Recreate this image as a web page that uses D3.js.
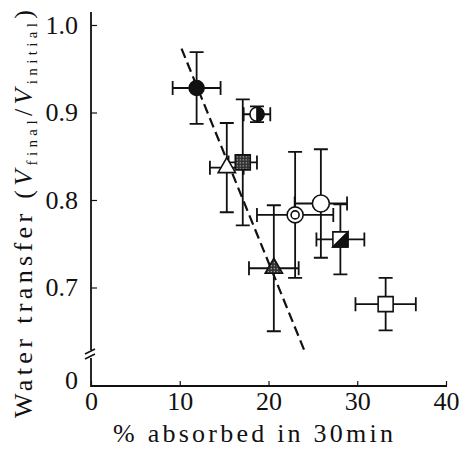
<!DOCTYPE html>
<html>
<head>
<meta charset="utf-8">
<script src="https://cdn.jsdelivr.net/npm/d3@7"></script>
<style>
  body { margin: 0; background: #fff; }
</style>
</head>
<body>
<div class="visHolder"></div>
<script>
const w = 463, h = 450;
const font = "'Liberation Serif', 'DejaVu Serif', serif";

// one entry per group
const markers     = ['filledCircle', 'halfCircle', 'filledSquare', 'openTriangle', 'doubleCircle', 'openCircle', 'halfSquare', 'dotTriangle', 'openSquare'];
const absorbed    = [11.9, 18.7, 17.1, 15.3, 23.0, 25.9, 28.1, 20.6, 33.2];
const absorbedErr = [2.7, 1.5, 1.6, 1.9, 4.3, 2.95, 2.7, 2.8, 3.4];
const transfer    = [0.928, 0.898, 0.843, 0.837, 0.783, 0.796, 0.755, 0.722, 0.681];
const transferErr = [0.041, 0.009, 0.072, 0.051, 0.072, 0.062, 0.040, 0.072, 0.030];

// dashed regression line end points
const trendX = [10.2, 24.0];
const trendY = [0.973, 0.629];

const xTicks = [0, 10, 20, 30, 40];
const yTicks = [0, 0.7, 0.8, 0.9, 1.0];

const svg = d3.select('.visHolder')
  .append('svg')
  .attr('width', w)
  .attr('height', h)
  .attr('font-family', font)
  .style('display', 'block');

const xScale = d3.scaleLinear().domain([0, 40]).range([91, 446]);
// broken axis: 0 sits just under the break
const yScale = d3.scaleLinear().domain([0, 0.62, 1.0]).range([380, 357.5, 25]);
const baseY = 386;

// error bars
const cap = 7;
const bars = svg.append('g')
  .attr('stroke', '#111')
  .attr('stroke-width', 1.8)
  .attr('fill', 'none');

absorbed.forEach((v, i) => {
  const cx = xScale(v), cy = yScale(transfer[i]);
  const x0 = xScale(v - absorbedErr[i]), x1 = xScale(v + absorbedErr[i]);
  const y0 = yScale(transfer[i] - transferErr[i]), y1 = yScale(transfer[i] + transferErr[i]);
  bars.append('path')
    .attr('d', `M${x0},${cy}H${x1}M${x0},${cy - cap}V${cy + cap}M${x1},${cy - cap}V${cy + cap}` +
               `M${cx},${y0}V${y1}M${cx - cap},${y0}H${cx + cap}M${cx - cap},${y1}H${cx + cap}`);
});

// trend line
svg.append('line')
  .attr('x1', xScale(trendX[0])).attr('y1', yScale(trendY[0]))
  .attr('x2', xScale(trendX[1])).attr('y2', yScale(trendY[1]))
  .attr('stroke', '#111')
  .attr('stroke-width', 2.2)
  .attr('stroke-dasharray', '10,5');

// markers
const defs = svg.append('defs');
defs.append('pattern')
  .attr('id', 'stip')
  .attr('width', 3).attr('height', 3)
  .attr('patternUnits', 'userSpaceOnUse')
  .call(p => {
    p.append('rect').attr('width', 3).attr('height', 3).attr('fill', '#333');
    p.append('rect').attr('width', 1).attr('height', 1).attr('fill', '#ddd');
  });

const tri = d3.symbol(d3.symbolTriangle, 130)();
const sq = d3.symbol(d3.symbolSquare, 225)();

const marks = svg.append('g')
  .attr('stroke', '#111')
  .attr('stroke-width', 1.6);

markers.forEach((m, i) => {
  const g = marks.append('g')
    .attr('transform', `translate(${xScale(absorbed[i])},${yScale(transfer[i])})`);
  if (m === 'filledCircle') {
    g.append('circle').attr('r', 7.5).attr('fill', '#111');
  } else if (m === 'halfCircle') {
    g.append('circle').attr('r', 7).attr('fill', '#fff');
    g.append('path').attr('d', 'M0,-7A7,7 0 0 1 0,7Z').attr('fill', '#111');
  } else if (m === 'filledSquare') {
    g.append('path').attr('d', sq).attr('fill', 'url(#stip)');
  } else if (m === 'openTriangle') {
    g.append('path').attr('d', tri).attr('fill', '#fff');
  } else if (m === 'doubleCircle') {
    g.append('circle').attr('r', 8).attr('fill', '#fff');
    g.append('circle').attr('r', 4).attr('fill', '#fff');
  } else if (m === 'openCircle') {
    g.append('circle').attr('r', 8.5).attr('fill', '#fff');
  } else if (m === 'halfSquare') {
    g.append('path').attr('d', sq).attr('fill', '#fff');
    g.append('path').attr('d', 'M-7.5,7.5L7.5,-7.5V7.5Z').attr('fill', '#111');
  } else if (m === 'dotTriangle') {
    g.append('path').attr('d', tri).attr('fill', 'url(#stip)');
  } else if (m === 'openSquare') {
    g.append('path').attr('d', sq).attr('fill', '#fff');
  }
});

// axes
const xAxis = d3.axisBottom(xScale)
  .tickValues(xTicks)
  .tickSize(-5)
  .tickPadding(6)
  .tickFormat(d3.format('d'));

svg.append('g')
  .attr('id', 'x-axis')
  .attr('transform', `translate(0, ${baseY})`)
  .call(xAxis)
  .attr('font-family', font)
  .attr('font-size', 26)
  .call(g => g.select('.domain').remove())
  .call(g => g.selectAll('.tick line').attr('stroke', '#111').attr('stroke-width', 1.2))
  .call(g => g.selectAll('.tick text').attr('fill', '#111'));

const yAxis = d3.axisLeft(yScale)
  .tickValues(yTicks)
  .tickSize(-6)
  .tickPadding(13)
  .tickFormat(d => d === 0 ? '0' : d3.format('.1f')(d));

svg.append('g')
  .attr('id', 'y-axis')
  .attr('transform', `translate(${xScale(0)}, 0)`)
  .call(yAxis)
  .attr('font-family', font)
  .attr('font-size', 26)
  .call(g => g.select('.domain').remove())
  .call(g => g.selectAll('.tick line').attr('stroke', '#111').attr('stroke-width', 1.2)
    .filter(d => d === 0).remove())
  .call(g => g.selectAll('.tick text').attr('fill', '#111'));

// axis lines with the break
const ax = xScale(0);
svg.append('path')
  .attr('d', `M${ax},12V350M${ax},358V${baseY}H${xScale(40) + 1}`)
  .attr('stroke', '#111')
  .attr('stroke-width', 1.8)
  .attr('fill', 'none');
svg.append('path')
  .attr('d', `M${ax - 6},354L${ax + 4},349M${ax - 6},359L${ax + 4},354`)
  .attr('stroke', '#111')
  .attr('stroke-width', 1.6)
  .attr('fill', 'none');

// axis titles
svg.append('text')
  .attr('x', 253)
  .attr('y', 442)
  .attr('text-anchor', 'middle')
  .attr('font-size', 26)
  .attr('fill', '#111')
  .attr('textLength', 280)
  .attr('lengthAdjust', 'spacing')
  .text('% absorbed in 30min');

const yTitle = svg.append('text')
  .attr('transform', 'translate(32, 214) rotate(-90)')
  .attr('text-anchor', 'middle')
  .attr('font-size', 26)
  .attr('fill', '#111')
  .attr('textLength', 408)
  .attr('lengthAdjust', 'spacing');
yTitle.append('tspan').text('Water transfer (');
yTitle.append('tspan').attr('font-style', 'italic').text('V');
yTitle.append('tspan').attr('font-size', 15).attr('dy', 5).text('final');
yTitle.append('tspan').attr('dy', -5).text('/');
yTitle.append('tspan').attr('font-style', 'italic').text('V');
yTitle.append('tspan').attr('font-size', 15).attr('dy', 5).text('initial');
yTitle.append('tspan').attr('dy', -5).text(')');
</script>
</body>
</html>
